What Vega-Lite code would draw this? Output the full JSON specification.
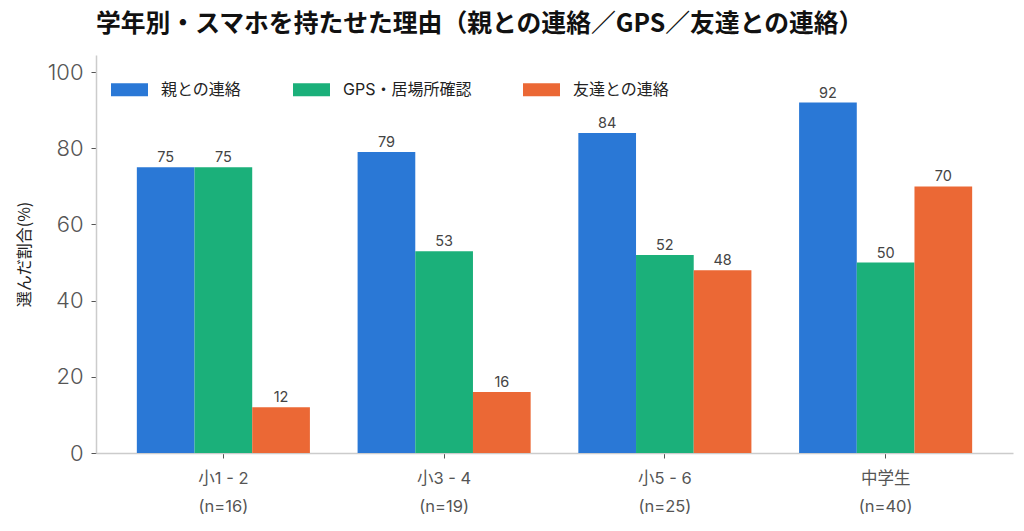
{
  "$schema": "https://vega.github.io/schema/vega-lite/v6.json",
  "autosize": {"type": "none"},
  "width": 917,
  "height": 398,
  "padding": {"left": 96, "top": 55, "right": 11, "bottom": 78},
  "background": "white",
  "config": {
    "font": "Inter, Noto Sans CJK JP",
    "view": {"stroke": null},
    "axis": {"grid": false}
  },
  "title": {
    "text": "学年別・スマホを持たせた理由（親との連絡／GPS／友達との連絡）",
    "anchor": "start",
    "frame": "group",
    "font": "Noto Sans CJK JP",
    "fontSize": 24.8,
    "fontWeight": "bold",
    "color": "#111111",
    "offset": 18
  },
  "data": {
    "values": [
      {"grade": "小1 - 2|(n=16)", "reason": "親との連絡", "value": 75},
      {"grade": "小1 - 2|(n=16)", "reason": "GPS・居場所確認", "value": 75},
      {"grade": "小1 - 2|(n=16)", "reason": "友達との連絡", "value": 12},
      {"grade": "小3 - 4|(n=19)", "reason": "親との連絡", "value": 79},
      {"grade": "小3 - 4|(n=19)", "reason": "GPS・居場所確認", "value": 53},
      {"grade": "小3 - 4|(n=19)", "reason": "友達との連絡", "value": 16},
      {"grade": "小5 - 6|(n=25)", "reason": "親との連絡", "value": 84},
      {"grade": "小5 - 6|(n=25)", "reason": "GPS・居場所確認", "value": 52},
      {"grade": "小5 - 6|(n=25)", "reason": "友達との連絡", "value": 48},
      {"grade": "中学生|(n=40)", "reason": "親との連絡", "value": 92},
      {"grade": "中学生|(n=40)", "reason": "GPS・居場所確認", "value": 50},
      {"grade": "中学生|(n=40)", "reason": "友達との連絡", "value": 70}
    ]
  },
  "encoding": {
    "x": {
      "field": "grade",
      "type": "nominal",
      "sort": null,
      "scale": {"paddingInner": 0.216, "paddingOuter": 0.185},
      "axis": {
        "title": null,
        "labelAngle": 0,
        "labelExpr": "split(datum.label, '|')",
        "labelFontSize": 16.5,
        "labelColor": "#555555",
        "labelLineHeight": 28,
        "labelPadding": 12,
        "domainColor": "#cccccc",
        "domainWidth": 1.5,
        "tickColor": "#555555",
        "tickSize": 5
      }
    },
    "xOffset": {
      "field": "reason",
      "type": "nominal",
      "sort": ["親との連絡", "GPS・居場所確認", "友達との連絡"],
      "scale": {"paddingInner": 0, "paddingOuter": 0}
    },
    "y": {
      "field": "value",
      "type": "quantitative",
      "scale": {"domain": [0, 104.5], "nice": false},
      "axis": {
        "title": "選んだ割合(%)",
        "titleFont": "Noto Sans CJK JP",
        "titleFontSize": 16,
        "titleFontWeight": "normal",
        "titleColor": "#222222",
        "titlePadding": 15,
        "values": [0, 20, 40, 60, 80, 100],
        "labelFontSize": 22,
        "labelFontWeight": 300,
        "labelColor": "#555555",
        "labelPadding": 8,
        "domainColor": "#cccccc",
        "domainWidth": 1.5,
        "tickColor": "#555555",
        "tickSize": 5
      }
    }
  },
  "layer": [
    {
      "mark": {"type": "bar"},
      "encoding": {
        "color": {
          "field": "reason",
          "type": "nominal",
          "sort": ["親との連絡", "GPS・居場所確認", "友達との連絡"],
          "scale": {
            "domain": ["親との連絡", "GPS・居場所確認", "友達との連絡"],
            "range": ["#2a78d6", "#1bb07a", "#eb6835"]
          },
          "legend": {
            "title": null,
            "orient": "none",
            "legendX": 15,
            "legendY": 16,
            "direction": "horizontal",
            "symbolType": "M-1,-0.35H1V0.35H-1Z",
            "symbolSize": 1369,
            "symbolStrokeWidth": 0,
            "labelFontSize": 16,
            "labelColor": "#222222",
            "labelOffset": 13,
            "columnPadding": 51
          }
        }
      }
    },
    {
      "mark": {"type": "text", "baseline": "bottom", "dy": -2, "fontSize": 14.5, "color": "#444444"},
      "encoding": {
        "text": {"field": "value", "type": "quantitative"}
      }
    }
  ]
}
